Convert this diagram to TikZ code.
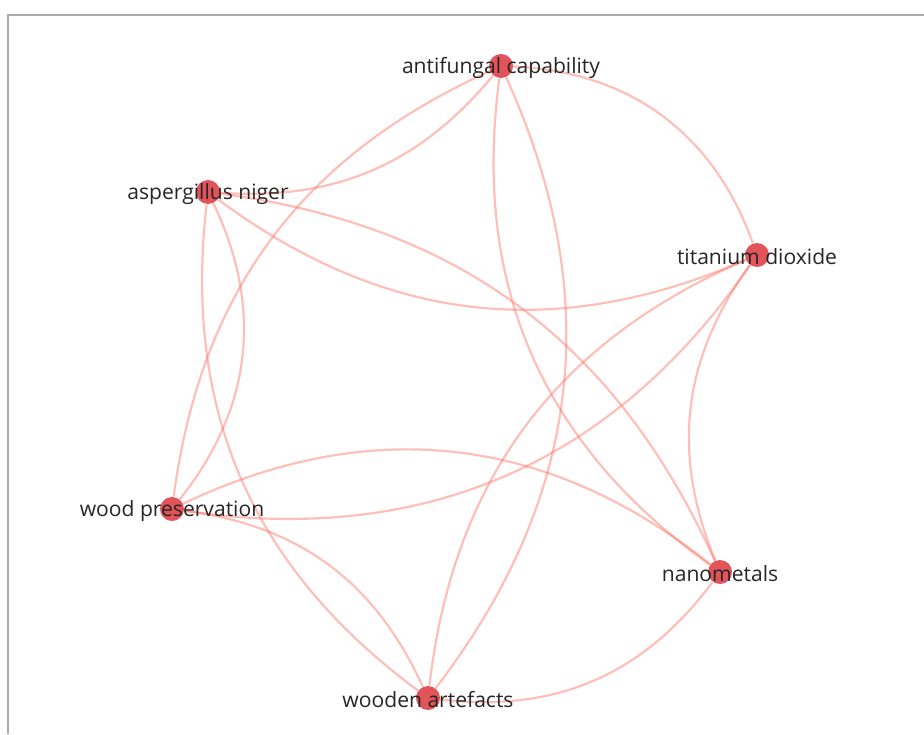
\documentclass[tikz,border=0pt]{standalone}
\usepackage{fontspec}
\setmainfont{Open Sans}
\usetikzlibrary{backgrounds}

\definecolor{termred}{RGB}{225,84,90}
\definecolor{linkred}{RGB}{255,112,100}
\definecolor{labelgray}{RGB}{38,38,38}
\definecolor{framegray}{RGB}{170,170,170}

\begin{document}
\begin{tikzpicture}[
    term/.style={circle, fill=termred, inner sep=0pt, minimum size=0.48cm},
    link/.style={draw=linkred, draw opacity=0.45, line width=1.25pt},
    tag/.style={text=labelgray, font=\fontsize{12}{14}\selectfont, inner sep=0pt, yshift=-1pt}
]
\useasboundingbox (0,0) rectangle (18.48,14.68);

% frame
\draw[framegray, line width=1.2pt] (0.16,0) -- (0.16,14.38) -- (18.48,14.38);

% terms
\node[term, label={[tag]center:antifungal capability}] (af) at (10.02,13.36) {};
\node[term, label={[tag]center:aspergillus niger}]     (an) at (4.16,10.84) {};
\node[term, label={[tag]center:titanium dioxide}]      (td) at (15.14,9.58) {};
\node[term, label={[tag]center:wood preservation}]     (wp) at (3.44,4.50) {};
\node[term, label={[tag]center:nanometals}]            (nm) at (14.40,3.24) {};
\node[term, label={[tag]center:wooden artefacts}]      (wa) at (8.56,0.72) {};

% co-occurrence links
\begin{scope}[on background layer]
\draw[link] (af) to[bend left=27]  (an);
\draw[link] (af) to[bend right=29] (wp);
\draw[link] (af) to[bend left=34]  (td);
\draw[link] (af) to[bend left=31]  (wa);
\draw[link] (af) to[bend right=31] (nm);

\draw[link] (an) to[bend right=30] (td);
\draw[link] (an) to[bend left=29]  (nm);
\draw[link] (an) to[bend left=32]  (wp);
\draw[link] (an) to[bend right=30] (wa);

\draw[link] (td) to[bend left=32]  (wp);
\draw[link] (td) to[bend right=30] (wa);
\draw[link] (td) to[bend right=29] (nm);

\draw[link] (wp) to[bend left=32]  (nm);
\draw[link] (wp) to[bend left=29]  (wa);
\draw[link] (nm) to[bend left=30]  (wa);
\end{scope}

\end{tikzpicture}
\end{document}
